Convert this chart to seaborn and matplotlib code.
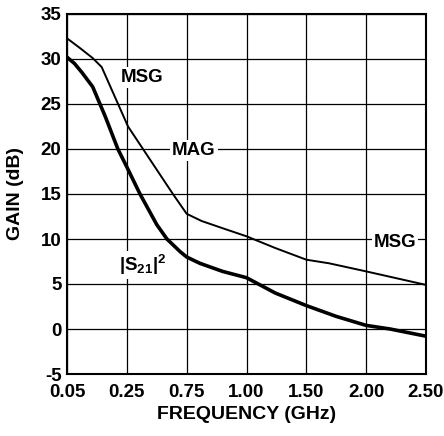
import numpy as np
import matplotlib
matplotlib.use("Agg")
import matplotlib.pyplot as plt
import seaborn as sns
import pandas as pd

# ---- data ----
freq_ticks = [0.05, 0.25, 0.75, 1.00, 1.50, 2.00, 2.50]
freq_tick_labels = ["0.05", "0.25", "0.75", "1.00", "1.50", "2.00", "2.50"]
gain_ticks = [-5, 0, 5, 10, 15, 20, 25, 30, 35]

msg_mag_freq = [0.05, 0.094, 0.136, 0.166, 0.26, 0.385, 0.635, 0.75, 0.8125,
                0.90, 1.00, 1.24, 1.50, 1.69, 2.00, 2.50]
msg_mag_gain = [32.3, 31.2, 30.1, 29.1, 22.5, 20.0, 15.0, 12.8, 12.0,
                11.2, 10.3, 9.0, 7.7, 7.3, 6.4, 4.9]

s21_freq = [0.05, 0.075, 0.10, 0.136, 0.178, 0.22, 0.25, 0.36, 0.50, 0.585,
            0.695, 0.75, 0.805, 0.90, 1.00, 1.24, 1.50, 1.75, 2.00, 2.20, 2.50]
s21_gain = [30.2, 29.5, 28.5, 26.9, 23.6, 20.0, 18.0, 15.0, 11.6, 10.0,
            8.6, 8.0, 7.3, 6.4, 5.7, 4.0, 2.6, 1.4, 0.4, 0.0, -0.8]

labels_text = ["MSG", "MAG", "|S$_{21}$|$^{2}$", "MSG"]
labels_freq = [0.375, 0.78, 0.385, 2.24]
labels_gain = [27.9, 19.8, 7.1, 9.6]

# ---- style ----
sns.set_theme(style="white")
plt.rcParams["font.family"] = ["Liberation Sans", "DejaVu Sans"]
plt.rcParams["font.weight"] = "bold"
plt.rcParams["mathtext.fontset"] = "custom"
plt.rcParams["mathtext.rm"] = "Liberation Sans:bold"
plt.rcParams["mathtext.it"] = "Liberation Sans:bold"
plt.rcParams["mathtext.bf"] = "Liberation Sans:bold"

fig = plt.figure(figsize=(4.44, 4.36), dpi=100)
ax = fig.add_axes([67 / 444, 1 - 374 / 436, (426 - 67) / 444, (374 - 14) / 436])

idx = np.arange(len(freq_ticks), dtype=float)


def fwd(f):
    return np.interp(f, freq_ticks, idx)


def inv(i):
    return np.interp(i, idx, freq_ticks)


ax.set_xscale("function", functions=(fwd, inv))

# grid lines drawn at the tick values
for fv in freq_ticks:
    ax.axvline(fv, color="black", linewidth=0.9, zorder=1)
for gv in gain_ticks:
    ax.axhline(gv, color="black", linewidth=0.9, zorder=1)

df1 = pd.DataFrame({"freq": msg_mag_freq, "gain": msg_mag_gain})
df2 = pd.DataFrame({"freq": s21_freq, "gain": s21_gain})
sns.lineplot(data=df1, x="freq", y="gain", ax=ax, color="black", linewidth=1.4,
             sort=False, estimator=None, zorder=3, solid_joinstyle="round")
sns.lineplot(data=df2, x="freq", y="gain", ax=ax, color="black", linewidth=2.6,
             sort=False, estimator=None, zorder=3, solid_joinstyle="round")

ax.set_xlim(freq_ticks[0], freq_ticks[-1])
ax.set_ylim(gain_ticks[0], gain_ticks[-1])
ax.set_xticks(freq_ticks)
ax.set_xticklabels(freq_tick_labels)
ax.set_yticks(gain_ticks)
ax.set_yticklabels([str(v) for v in gain_ticks])
ax.tick_params(axis="both", length=0, labelsize=13.5, colors="black")
ax.tick_params(axis="x", pad=7.5)
ax.tick_params(axis="y", pad=4)
for lab in ax.get_xticklabels() + ax.get_yticklabels():
    lab.set_fontweight("bold")

for s in ax.spines.values():
    s.set_visible(True)
    s.set_color("black")
    s.set_linewidth(1.5)
    s.set_zorder(5)

ax.set_xlabel("FREQUENCY (GHz)", fontsize=14, fontweight="bold", labelpad=3,
              color="black")
ax.set_ylabel("GAIN (dB)", fontsize=14, fontweight="bold", labelpad=12,
              color="black")

for t, fx, gy in zip(labels_text, labels_freq, labels_gain):
    ax.text(fx, gy, t, ha="center", va="center", fontsize=13.5, fontweight="bold",
            color="black", zorder=4,
            bbox=dict(facecolor="white", edgecolor="none", pad=1.5))

fig.savefig("out.png", dpi=100)
